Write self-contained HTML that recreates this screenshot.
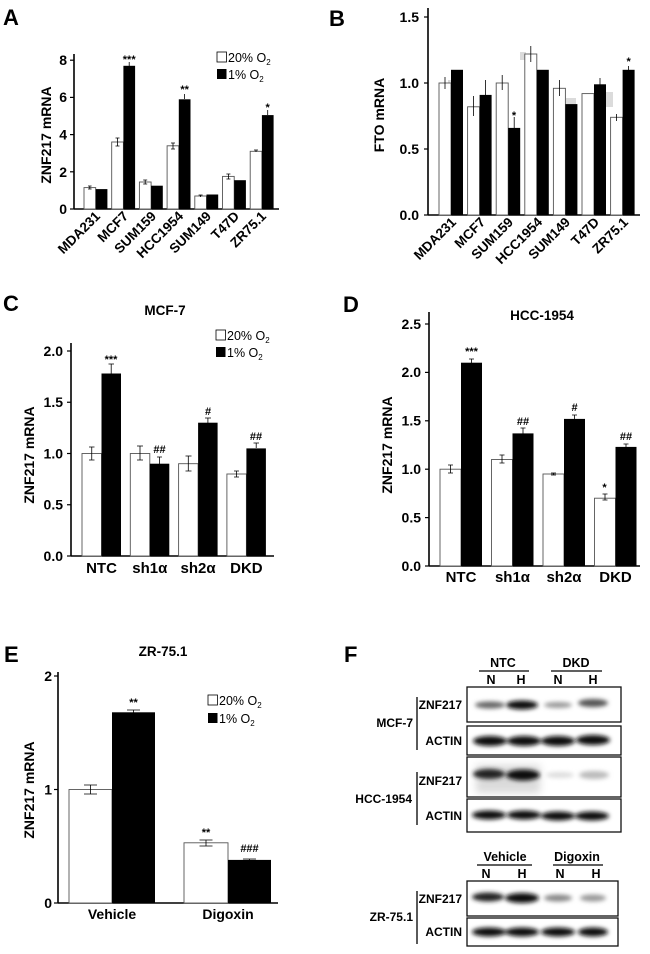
<!DOCTYPE html>
<html><head><meta charset="utf-8"><style>
html,body{margin:0;padding:0;background:#fff;}
svg{display:block;font-family:"Liberation Sans",Arial,sans-serif;font-weight:bold;}
</style></head><body>
<svg width="650" height="954" viewBox="0 0 650 954" xmlns="http://www.w3.org/2000/svg">
<defs>
<filter id="bl" x="-30%" y="-100%" width="160%" height="300%"><feGaussianBlur stdDeviation="2.2"/></filter>
<filter id="bl2" x="-30%" y="-100%" width="160%" height="300%"><feGaussianBlur stdDeviation="4"/></filter>
</defs>
<g stroke-linecap="butt">
<!-- ========== PANEL A ========== -->
<text x="3" y="25" font-size="22">A</text>
<line x1="74" y1="54" x2="74" y2="209" stroke="#000" stroke-width="1.6"/>
<line x1="74" y1="209" x2="279" y2="209" stroke="#000" stroke-width="1.6"/>
<g stroke="#000" stroke-width="1.2"><line x1="70" y1="209" x2="74" y2="209"/><line x1="70" y1="171.8" x2="74" y2="171.8"/><line x1="70" y1="134.6" x2="74" y2="134.6"/><line x1="70" y1="97.4" x2="74" y2="97.4"/><line x1="70" y1="60.2" x2="74" y2="60.2"/></g>
<g font-size="14" text-anchor="end"><text x="67" y="214">0</text><text x="67" y="177">2</text><text x="67" y="139.5">4</text><text x="67" y="102">6</text><text x="67" y="65">8</text></g>
<text transform="translate(51,135) rotate(-90)" font-size="14" text-anchor="middle">ZNF217 mRNA</text>
<g stroke="#555" stroke-width="0.9" fill="#fff">
<rect x="84" y="187.6" width="11.7" height="21.4"/><rect x="111.7" y="142" width="11.7" height="67"/><rect x="139.4" y="182" width="11.7" height="27"/><rect x="167.1" y="145.8" width="11.7" height="63.2"/><rect x="194.8" y="196" width="11.7" height="13"/><rect x="222.5" y="176.4" width="11.7" height="32.6"/><rect x="250.2" y="151.3" width="11.7" height="57.7"/>
</g>
<g fill="#000">
<rect x="95.7" y="189.1" width="11.7" height="19.9"/><rect x="123.4" y="65.8" width="11.7" height="143.2"/><rect x="151.1" y="185.7" width="11.7" height="23.3"/><rect x="178.8" y="99.3" width="11.7" height="109.7"/><rect x="206.5" y="194.5" width="11.7" height="14.5"/><rect x="234.2" y="180.2" width="11.7" height="28.8"/><rect x="261.9" y="115.1" width="11.7" height="93.9"/>
</g>
<g stroke="#000" stroke-width="0.8">
<path d="M89.8 186v3M88 186h3.6M88 189h3.6"/><path d="M117.5 138v8M115.5 138h4M115.5 146h4"/><path d="M145.2 180v4M143.2 180h4M143.2 184h4"/><path d="M173 143v6M171 143h4M171 149h4"/><path d="M200.6 195v2M198.6 195h4"/><path d="M228.4 174v5M226.4 174h4M226.4 179h4"/><path d="M256 150v2M254 150h4"/>
<line x1="129.2" y1="62" x2="129.2" y2="66"/><line x1="184.6" y1="94" x2="184.6" y2="99"/><line x1="267.7" y1="110" x2="267.7" y2="115"/>
</g>
<g font-size="11" text-anchor="middle"><text x="129.2" y="63">***</text><text x="184.6" y="93">**</text><text x="267.7" y="111">*</text></g>
<rect x="217" y="52" width="9.5" height="10" fill="#fff" stroke="#000" stroke-width="0.8"/>
<rect x="217" y="69" width="9.5" height="10" fill="#000"/>
<g font-size="12.5" font-weight="normal"><text x="228" y="62">20% O<tspan font-size="8" dy="3">2</tspan></text><text x="228" y="79">1% O<tspan font-size="8" dy="3">2</tspan></text></g>
<g font-size="13.5" text-anchor="end">
<text transform="translate(101,217) rotate(-45)">MDA231</text>
<text transform="translate(129,217) rotate(-45)">MCF7</text>
<text transform="translate(157,217) rotate(-45)">SUM159</text>
<text transform="translate(184,217) rotate(-45)">HCC1954</text>
<text transform="translate(212,217) rotate(-45)">SUM149</text>
<text transform="translate(240,217) rotate(-45)">T47D</text>
<text transform="translate(267,217) rotate(-45)">ZR75.1</text>
</g>

<!-- ========== PANEL B ========== -->
<text x="329" y="26" font-size="22">B</text>
<line x1="428" y1="8" x2="428" y2="215" stroke="#000" stroke-width="1.6"/>
<line x1="428" y1="215" x2="640" y2="215" stroke="#000" stroke-width="1.6"/>
<g stroke="#000" stroke-width="1.2"><line x1="424" y1="215" x2="428" y2="215"/><line x1="424" y1="149" x2="428" y2="149"/><line x1="424" y1="83" x2="428" y2="83"/><line x1="424" y1="17" x2="428" y2="17"/></g>
<g font-size="14" text-anchor="end"><text x="419" y="220">0.0</text><text x="419" y="154">0.5</text><text x="419" y="88">1.0</text><text x="419" y="22">1.5</text></g>
<text transform="translate(384,115) rotate(-90)" font-size="14" text-anchor="middle">FTO mRNA</text>
<g fill="#ccc" opacity="0.7"><rect x="448" y="80" width="7" height="25"/><rect x="566" y="98" width="10" height="12"/><rect x="600" y="92" width="13" height="15"/><rect x="520" y="52" width="6" height="8"/></g>
<g stroke="#555" stroke-width="0.9" fill="#fff">
<rect x="439" y="83" width="12" height="132"/><rect x="467.6" y="106.8" width="12" height="108.2"/><rect x="496.2" y="83" width="12" height="132"/><rect x="524.8" y="54" width="12" height="161"/><rect x="553.4" y="88.3" width="12" height="126.7"/><rect x="582" y="93.6" width="12" height="121.4"/><rect x="610.6" y="117.3" width="12" height="97.7"/>
</g>
<g fill="#000">
<rect x="451" y="69.8" width="12" height="145.2"/><rect x="479.6" y="94.9" width="12" height="120.1"/><rect x="508.2" y="127.9" width="12" height="87.1"/><rect x="536.8" y="69.8" width="12" height="145.2"/><rect x="565.4" y="104.1" width="12" height="110.9"/><rect x="594" y="84.3" width="12" height="130.7"/><rect x="622.6" y="69.8" width="12" height="145.2"/>
</g>
<g stroke="#000" stroke-width="0.8">
<line x1="445" y1="77" x2="445" y2="89"/><line x1="473.6" y1="96" x2="473.6" y2="116"/><line x1="485.6" y1="80" x2="485.6" y2="96"/><line x1="502.2" y1="75" x2="502.2" y2="90"/><line x1="514.2" y1="117" x2="514.2" y2="128"/><line x1="530.8" y1="46" x2="530.8" y2="62"/><line x1="559.4" y1="80" x2="559.4" y2="96"/><line x1="600" y1="78" x2="600" y2="86"/><line x1="616.6" y1="114" x2="616.6" y2="121"/><line x1="628.6" y1="66" x2="628.6" y2="70"/>
</g>
<g font-size="11" text-anchor="middle"><text x="514" y="119">*</text><text x="628.6" y="65">*</text></g>
<g font-size="13.5" text-anchor="end">
<text transform="translate(457,223) rotate(-45)">MDA231</text>
<text transform="translate(486,223) rotate(-45)">MCF7</text>
<text transform="translate(514,223) rotate(-45)">SUM159</text>
<text transform="translate(543,223) rotate(-45)">HCC1954</text>
<text transform="translate(571,223) rotate(-45)">SUM149</text>
<text transform="translate(600,223) rotate(-45)">T47D</text>
<text transform="translate(629,223) rotate(-45)">ZR75.1</text>
</g>

<!-- ========== PANEL C ========== -->
<text x="3" y="311" font-size="22">C</text>
<text x="165" y="315" font-size="13.5" text-anchor="middle">MCF-7</text>
<line x1="71" y1="343" x2="71" y2="556" stroke="#000" stroke-width="1.6"/>
<line x1="71" y1="556" x2="274" y2="556" stroke="#000" stroke-width="1.6"/>
<g stroke="#000" stroke-width="1.2"><line x1="67" y1="556" x2="71" y2="556"/><line x1="67" y1="504.75" x2="71" y2="504.75"/><line x1="67" y1="453.5" x2="71" y2="453.5"/><line x1="67" y1="402.25" x2="71" y2="402.25"/><line x1="67" y1="351" x2="71" y2="351"/></g>
<g font-size="14" text-anchor="end"><text x="63" y="561">0.0</text><text x="63" y="509.5">0.5</text><text x="63" y="458.5">1.0</text><text x="63" y="407">1.5</text><text x="63" y="356">2.0</text></g>
<text transform="translate(34,455) rotate(-90)" font-size="14" text-anchor="middle">ZNF217 mRNA</text>
<g stroke="#555" stroke-width="0.9" fill="#fff">
<rect x="82" y="453.5" width="19.5" height="102.5"/><rect x="130.3" y="453.5" width="19.5" height="102.5"/><rect x="178.6" y="463.7" width="19.5" height="92.3"/><rect x="226.9" y="474" width="19.5" height="82"/>
</g>
<g fill="#000">
<rect x="101.5" y="373.5" width="19.5" height="182.5"/><rect x="149.8" y="463.7" width="19.5" height="92.3"/><rect x="198.1" y="422.7" width="19.5" height="133.3"/><rect x="246.4" y="448.4" width="19.5" height="107.6"/>
</g>
<g stroke="#000" stroke-width="0.8">
<path d="M91.75 447v13M89 447h5.5M89 460h5.5"/><path d="M140 446v14M137 446h6M137 460h6"/><path d="M188.3 456v15M185.5 456h6M185.5 471h6"/><path d="M236.6 471v6M234 471h5M234 477h5"/>
<path d="M111.2 364v10M108.5 364h5.5"/><path d="M159.5 457v7M157 457h5"/><path d="M207.9 418v5M205 418h6"/><path d="M256.2 443v5M253.5 443h5.5"/>
</g>
<g font-size="11" text-anchor="middle"><text x="111" y="363">***</text><text x="159.5" y="453">##</text><text x="208" y="415">#</text><text x="256" y="440">##</text></g>
<rect x="216" y="330" width="9.5" height="10" fill="#fff" stroke="#000" stroke-width="0.8"/>
<rect x="216" y="347" width="9.5" height="10" fill="#000"/>
<g font-size="12.5" font-weight="normal"><text x="227" y="340">20% O<tspan font-size="8" dy="3">2</tspan></text><text x="227" y="357">1% O<tspan font-size="8" dy="3">2</tspan></text></g>
<g font-size="15" text-anchor="middle"><text x="101.5" y="573">NTC</text><text x="149.8" y="573">sh1α</text><text x="198.1" y="573">sh2α</text><text x="246.4" y="573">DKD</text></g>

<!-- ========== PANEL D ========== -->
<text x="343" y="312" font-size="22">D</text>
<text x="542" y="320" font-size="13.5" text-anchor="middle">HCC-1954</text>
<line x1="429" y1="312" x2="429" y2="566" stroke="#000" stroke-width="1.6"/>
<line x1="429" y1="566" x2="640" y2="566" stroke="#000" stroke-width="1.6"/>
<g stroke="#000" stroke-width="1.2"><line x1="425" y1="566" x2="429" y2="566"/><line x1="425" y1="517.6" x2="429" y2="517.6"/><line x1="425" y1="469.2" x2="429" y2="469.2"/><line x1="425" y1="420.8" x2="429" y2="420.8"/><line x1="425" y1="372.4" x2="429" y2="372.4"/><line x1="425" y1="324" x2="429" y2="324"/></g>
<g font-size="14" text-anchor="end"><text x="421" y="571">0.0</text><text x="421" y="522.5">0.5</text><text x="421" y="474">1.0</text><text x="421" y="425.5">1.5</text><text x="421" y="377">2.0</text><text x="421" y="329">2.5</text></g>
<text transform="translate(392,445) rotate(-90)" font-size="14" text-anchor="middle">ZNF217 mRNA</text>
<g stroke="#555" stroke-width="0.9" fill="#fff">
<rect x="440" y="469.2" width="21" height="96.8"/><rect x="491.5" y="459.5" width="21" height="106.5"/><rect x="543" y="474" width="21" height="92"/><rect x="594.5" y="498.2" width="21" height="67.8"/>
</g>
<g fill="#000">
<rect x="461" y="362.7" width="21" height="203.3"/><rect x="512.5" y="433.4" width="21" height="132.6"/><rect x="564" y="418.9" width="21" height="147.1"/><rect x="615.5" y="446.9" width="21" height="119.1"/>
</g>
<g stroke="#000" stroke-width="0.8">
<path d="M450.5 465v8M448 465h5M448 473h5"/><path d="M502 455v8M499.5 455h5M499.5 463h5"/><path d="M553.5 473v2M551 473h5M551 475h5"/><path d="M605 494v6M602.5 494h5M602.5 500h5"/>
<path d="M471.5 359v4M469 359h5"/><path d="M523 428v6M520.5 428h5"/><path d="M574.5 415v4M572 415h5"/><path d="M626 444v3M623.5 444h5"/>
</g>
<g font-size="11" text-anchor="middle"><text x="471.5" y="355">***</text><text x="523" y="425">##</text><text x="574.5" y="411">#</text><text x="626" y="440">##</text><text x="604.5" y="491">*</text></g>
<g font-size="15" text-anchor="middle"><text x="461" y="582">NTC</text><text x="512.5" y="582">sh1α</text><text x="564" y="582">sh2α</text><text x="615.5" y="582">DKD</text></g>

<!-- ========== PANEL E ========== -->
<text x="4" y="662" font-size="22">E</text>
<text x="163" y="656" font-size="13.5" text-anchor="middle">ZR-75.1</text>
<line x1="58" y1="672" x2="58" y2="903" stroke="#000" stroke-width="1.6"/>
<line x1="58" y1="903" x2="278" y2="903" stroke="#000" stroke-width="1.6"/>
<g stroke="#000" stroke-width="1.2"><line x1="54" y1="903" x2="58" y2="903"/><line x1="54" y1="789.5" x2="58" y2="789.5"/><line x1="54" y1="676" x2="58" y2="676"/></g>
<g font-size="14" text-anchor="end"><text x="52" y="908">0</text><text x="52" y="794.5">1</text><text x="52" y="681">2</text></g>
<text transform="translate(34,790) rotate(-90)" font-size="14" text-anchor="middle">ZNF217 mRNA</text>
<g stroke="#555" stroke-width="0.9" fill="#fff"><rect x="69" y="789.5" width="43" height="113.5"/><rect x="184" y="842.8" width="44" height="60.2"/></g>
<g fill="#000"><rect x="112" y="712.3" width="43" height="190.7"/><rect x="228" y="859.9" width="43" height="43.1"/></g>
<g stroke="#000" stroke-width="0.8">
<path d="M90.5 785v9M84 785h13M84 794h13"/><path d="M206 840v6M199.5 840h13M199.5 846h13"/><path d="M133.5 710v3M127 710h13"/><path d="M249.5 859v1M243 859h13"/>
</g>
<g font-size="11" text-anchor="middle"><text x="133.5" y="706">**</text><text x="206" y="836">**</text><text x="249.5" y="852">###</text></g>
<rect x="208" y="695" width="9.5" height="10" fill="#fff" stroke="#000" stroke-width="0.8"/>
<rect x="208" y="713" width="9.5" height="10" fill="#000"/>
<g font-size="12.5" font-weight="normal"><text x="219" y="705">20% O<tspan font-size="8" dy="3">2</tspan></text><text x="219" y="723">1% O<tspan font-size="8" dy="3">2</tspan></text></g>
<g font-size="14" text-anchor="middle"><text x="112" y="919">Vehicle</text><text x="228" y="919">Digoxin</text></g>

<!-- ========== PANEL F ========== -->
<text x="344" y="662" font-size="22">F</text>
<g font-size="12.5" text-anchor="middle">
<text x="503" y="667">NTC</text><text x="576" y="667">DKD</text>
<text x="491" y="684">N</text><text x="521" y="684">H</text><text x="558" y="684">N</text><text x="593" y="684">H</text>
<text x="505" y="861">Vehicle</text><text x="577" y="861">Digoxin</text>
<text x="486" y="878">N</text><text x="522" y="878">H</text><text x="560" y="878">N</text><text x="596" y="878">H</text>
</g>
<g stroke="#000" stroke-width="1.3">
<line x1="479" y1="671" x2="529" y2="671"/><line x1="551" y1="671" x2="602" y2="671"/>
<line x1="477" y1="865" x2="532" y2="865"/><line x1="553" y1="865" x2="603" y2="865"/>
<line x1="417" y1="697" x2="417" y2="750"/><line x1="417" y1="772" x2="417" y2="825"/><line x1="417" y1="891" x2="417" y2="944"/>
</g>
<g font-size="12" text-anchor="end">
<text x="462" y="709">ZNF217</text><text x="462" y="745">ACTIN</text><text x="462" y="785">ZNF217</text><text x="462" y="820">ACTIN</text><text x="462" y="903">ZNF217</text><text x="462" y="936">ACTIN</text>
<text x="413" y="727">MCF-7</text><text x="412" y="803">HCC-1954</text><text x="413" y="921">ZR-75.1</text>
</g>
<g fill="#fff" stroke="#111" stroke-width="1.3">
<rect x="467" y="687" width="154" height="35"/><rect x="467" y="726" width="154" height="29"/><rect x="467" y="757" width="154" height="40"/><rect x="467" y="799" width="154" height="33"/>
<rect x="467" y="881" width="151" height="35"/><rect x="467" y="918" width="151" height="28"/>
</g>
<g filter="url(#bl2)" opacity="0.3"><rect x="476" y="765" width="64" height="28" fill="#888"/></g>
<g filter="url(#bl)">
<ellipse cx="490" cy="705" rx="15" ry="3.5" fill="#666"/><ellipse cx="522" cy="705" rx="16" ry="4.5" fill="#111"/><ellipse cx="558" cy="705" rx="14" ry="3" fill="#999"/><ellipse cx="593" cy="703" rx="15" ry="4" fill="#555"/>
<ellipse cx="490" cy="741" rx="17" ry="5" fill="#111"/><ellipse cx="524" cy="741" rx="17" ry="5" fill="#111"/><ellipse cx="558" cy="741" rx="17" ry="5" fill="#111"/><ellipse cx="593" cy="740" rx="17" ry="5" fill="#111"/>
<ellipse cx="489" cy="774" rx="16" ry="5" fill="#222"/><ellipse cx="523" cy="775" rx="17" ry="5.5" fill="#111"/><ellipse cx="560" cy="775" rx="14" ry="3" fill="#ddd"/><ellipse cx="594" cy="775" rx="15" ry="4" fill="#bbb"/>
<ellipse cx="489" cy="815" rx="17" ry="4.5" fill="#111"/><ellipse cx="524" cy="815" rx="17" ry="4.5" fill="#111"/><ellipse cx="558" cy="816" rx="17" ry="4.5" fill="#111"/><ellipse cx="592" cy="816" rx="17" ry="4.5" fill="#111"/>
<ellipse cx="488" cy="897" rx="16" ry="4.5" fill="#222"/><ellipse cx="522" cy="898" rx="17" ry="5" fill="#111"/><ellipse cx="558" cy="898" rx="14" ry="3.5" fill="#888"/><ellipse cx="593" cy="898" rx="13" ry="3.5" fill="#999"/>
<ellipse cx="489" cy="932" rx="17" ry="4.5" fill="#111"/><ellipse cx="522" cy="932" rx="17" ry="4.5" fill="#111"/><ellipse cx="558" cy="932" rx="17" ry="4.5" fill="#111"/><ellipse cx="593" cy="932" rx="15" ry="4.5" fill="#111"/>
</g>
</g>
</svg>
</body></html>
